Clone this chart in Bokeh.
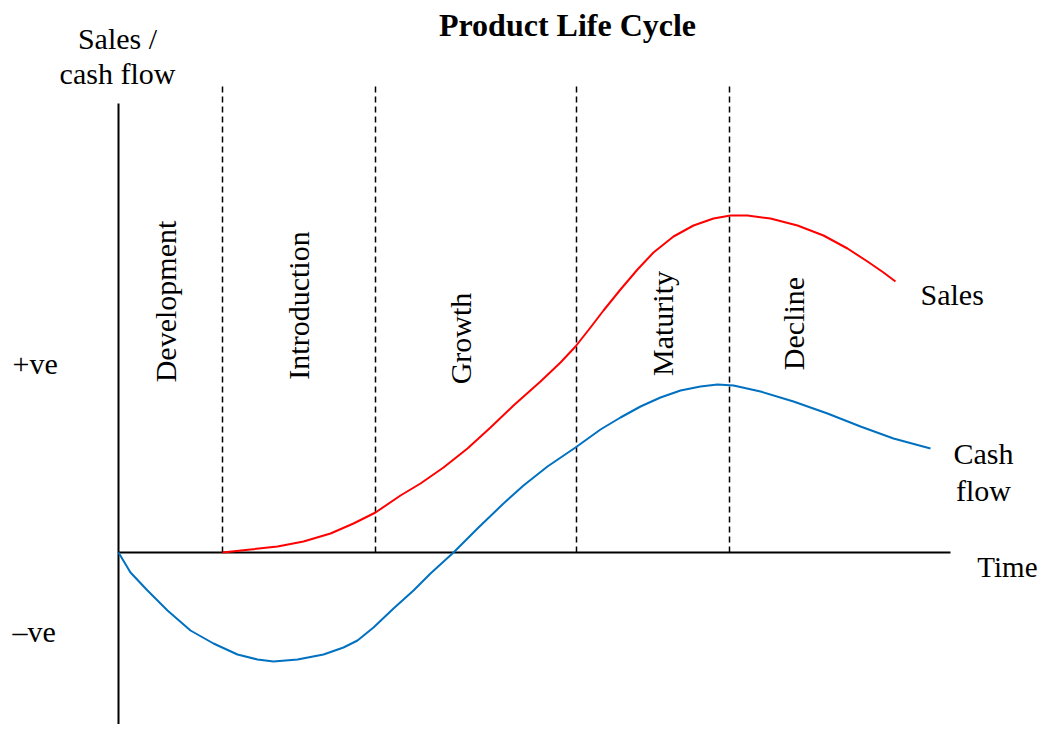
from bokeh.plotting import figure
from bokeh.models import Range1d
from bokeh.core.properties import value
from bokeh.embed import file_html
from bokeh.resources import INLINE

# ---- data (arbitrary units: x = time, y = sales / cash flow) ----
stage_names = ["Development", "Introduction", "Growth", "Maturity", "Decline"]
stage_bounds = [104, 257, 458, 611]

sales_t = [104, 132, 159, 185, 212, 235, 257, 282, 302, 325, 349, 372, 395,
           422, 442, 457, 472, 485, 502, 519, 535, 555, 575, 595, 612, 629,
           652, 679, 705, 729, 749, 765, 777]
sales_v = [0, 3, 6, 11, 19, 29, 40, 57, 69, 85, 104, 125, 147,
           171, 190, 206, 225, 242, 263, 283, 300, 316, 327, 334, 337, 337,
           334, 327, 317, 304, 291, 280, 271]

cash_t = [0, 12, 29, 49, 72, 95, 119, 139, 155, 179, 205, 225, 239, 255,
          275, 295, 312, 335, 359, 385, 405, 429, 457, 482, 502, 522, 542,
          562, 582, 599, 615, 642, 675, 709, 742, 775, 812]
cash_v = [0, -20, -38, -58, -78, -91, -102, -107, -109, -107, -102, -95, -88, -75,
          -56, -38, -21, 0, 24, 49, 67, 86, 105, 123, 135, 146, 155,
          162, 166, 168, 167, 161, 151, 139, 126, 114, 104]

FONT = value("Liberation Serif")

p = figure(width=1039, height=724, output_backend="svg", toolbar_location=None,
           x_range=Range1d(-118, 921), y_range=Range1d(-172, 552),
           min_border=0)
p.axis.visible = False
p.grid.visible = False
p.outline_line_color = None
p.background_fill_color = "white"
p.border_fill_color = "white"

# axes drawn as lines
p.line([0, 0], [-200, 449], line_color="black", line_width=2)
p.line([0, 832], [0, 0], line_color="black", line_width=2)

# stage boundaries
for b in stage_bounds:
    p.line([b, b], [0, 467], line_color="black", line_width=1.5, line_dash="6 4")

# curves
p.line(sales_t, sales_v, line_color="#FF0000", line_width=2, line_join="round")
p.line(cash_t, cash_v, line_color="#0070C0", line_width=2, line_join="round")

# stage labels (rotated)
label_x = [47, 180, 342, 544, 675]
label_y = [251, 247, 214, 229, 229]
p.text(x=label_x, y=label_y, text=stage_names, angle=1.5708,
       text_font=FONT, text_font_size="30px", text_align="center",
       text_baseline="middle", text_color="black")

# title
p.text(x=[449], y=[528], text=["Product Life Cycle"], text_font=FONT,
       text_font_size="32px", text_font_style="bold", text_align="center",
       text_baseline="middle", text_color="black")

# y axis title
p.text(x=[-1, -1], y=[514, 479], text=["Sales /", "cash flow"], text_font=FONT,
       text_font_size="30px", text_align="center", text_baseline="middle",
       text_color="black")

# +ve / -ve
p.text(x=[-106, -106], y=[189, -79], text=["+ve", "\u2013ve"], text_font=FONT,
       text_font_size="30px", text_align="left", text_baseline="middle",
       text_color="black")

# Time
p.text(x=[919], y=[-14], text=["Time"], text_font=FONT, text_font_size="29px",
       text_align="right", text_baseline="middle", text_color="black")

# curve labels
p.text(x=[802], y=[258], text=["Sales"], text_font=FONT, text_font_size="30px",
       text_align="left", text_baseline="middle", text_color="black")
p.text(x=[865, 865], y=[99, 62], text=["Cash", "flow"], text_font=FONT,
       text_font_size="30px", text_align="center", text_baseline="middle",
       text_color="black")

open("out.html", "w").write(file_html(p, INLINE))
